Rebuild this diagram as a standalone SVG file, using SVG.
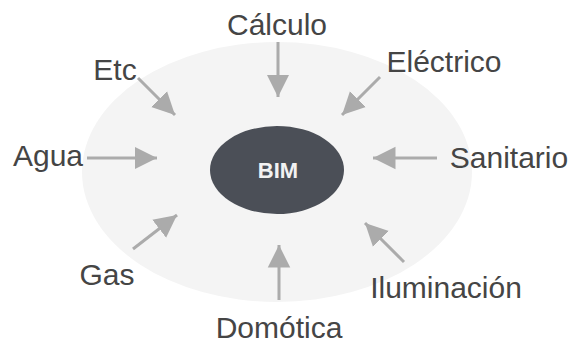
<svg xmlns="http://www.w3.org/2000/svg" width="574" height="344" viewBox="0 0 574 344">
<defs>
<style>
.lbl{font-family:"Liberation Sans",Arial,sans-serif;font-size:30px;fill:#454545;}
.conn{stroke:#ababab;stroke-width:3;fill:none;}
.bim{font-family:"Liberation Sans",Arial,sans-serif;font-size:22px;font-weight:bold;fill:#f2f2f2;}
</style>
<marker id="ah" viewBox="0 0 10 10" refX="10" refY="5" markerWidth="7.5" markerHeight="8" markerUnits="strokeWidth" orient="auto">
<path d="M0,0 L10,5 L0,10 Z" fill="#ababab"/>
</marker>
</defs>
<rect width="574" height="344" fill="#ffffff"/>
<g id="area"><ellipse cx="277" cy="172" rx="195" ry="130" fill="#f4f4f4"/></g>
<g id="bim"><ellipse cx="277" cy="170" rx="67" ry="44" fill="#4b4f57"/><text class="bim" x="278" y="178" text-anchor="middle">BIM</text></g>
<g id="calculo"><text class="lbl" x="277" y="35" text-anchor="middle">Cálculo</text></g>
<g id="electrico"><text class="lbl" x="444" y="72" text-anchor="middle">Eléctrico</text></g>
<g id="etc"><text class="lbl" x="115" y="80" text-anchor="middle">Etc</text></g>
<g id="agua"><text class="lbl" x="48" y="166" text-anchor="middle">Agua</text></g>
<g id="sanitario"><text class="lbl" x="509" y="168" text-anchor="middle">Sanitario</text></g>
<g id="gas"><text class="lbl" x="107" y="285" text-anchor="middle">Gas</text></g>
<g id="iluminacion"><text class="lbl" x="446" y="298" text-anchor="middle">Iluminación</text></g>
<g id="domotica"><text class="lbl" x="279" y="338" text-anchor="middle">Domótica</text></g>
<g id="connectors">
<line class="conn" x1="278" y1="42" x2="278" y2="97" marker-end="url(#ah)"/>
<line class="conn" x1="279" y1="300" x2="279" y2="245" marker-end="url(#ah)"/>
<line class="conn" x1="138" y1="78" x2="175" y2="115" marker-end="url(#ah)"/>
<line class="conn" x1="87" y1="158" x2="157" y2="158" marker-end="url(#ah)"/>
<line class="conn" x1="380" y1="77" x2="342" y2="115" marker-end="url(#ah)"/>
<line class="conn" x1="437" y1="158" x2="373" y2="158" marker-end="url(#ah)"/>
<line class="conn" x1="133" y1="249" x2="177" y2="215" marker-end="url(#ah)"/>
<line class="conn" x1="404" y1="262" x2="365" y2="223" marker-end="url(#ah)"/>
</g>
</svg>
